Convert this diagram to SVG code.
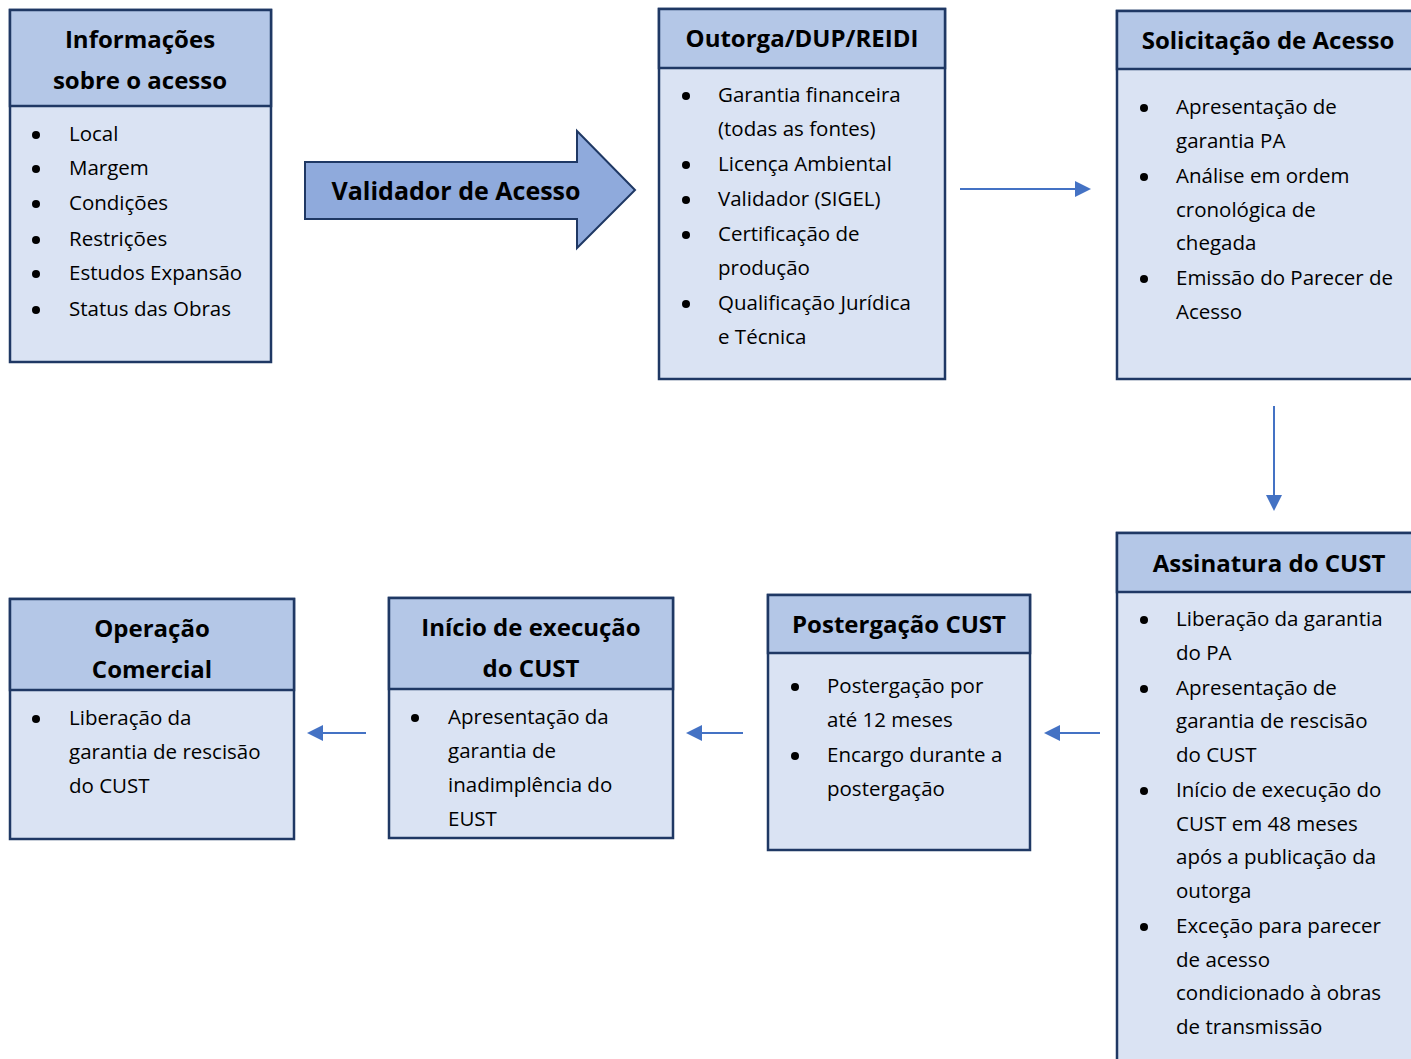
<svg xmlns="http://www.w3.org/2000/svg" width="1411" height="1059" viewBox="0 0 1411 1059">
<defs>
<style>
.hdr{fill:#B4C7E7;stroke:#1F3864;stroke-width:2.5}
.bdy{fill:#DAE3F3;stroke:#1F3864;stroke-width:2.5}
.t{font-family:"Open Sans","Liberation Sans",sans-serif;font-weight:bold;font-size:24px;fill:#000;text-anchor:middle}
.b{font-family:"Open Sans","Liberation Sans",sans-serif;font-size:20.5px;fill:#000}
.dot{fill:#000}
.con{stroke:#4472C4;stroke-width:2;fill:none}
.head{fill:#4472C4}
</style>
</defs>
<rect width="1411" height="1059" fill="#fff"/>

<g id="connectors">
<line class="con" x1="960" y1="189" x2="1078" y2="189"/>
<path class="head" d="M1075,181 L1091,189 L1075,197 Z"/>
<line class="con" x1="1274" y1="406" x2="1274" y2="497"/>
<path class="head" d="M1266,495 L1274,511 L1282,495 Z"/>
<line class="con" x1="1100" y1="733" x2="1058" y2="733"/>
<path class="head" d="M1060,725 L1044,733 L1060,741 Z"/>
<line class="con" x1="743" y1="733" x2="700" y2="733"/>
<path class="head" d="M702,725 L686,733 L702,741 Z"/>
<line class="con" x1="366" y1="733" x2="321" y2="733"/>
<path class="head" d="M323,725 L307,733 L323,741 Z"/>
</g>

<g id="validador">
<path d="M305,162 L577,162 L577,131 L635,190 L577,248 L577,219 L305,219 Z" fill="#8FAADC" stroke="#1F3864" stroke-width="2"/>
<text class="t" x="456" y="200" style="font-size:25px">Validador de Acesso</text>
</g>

<g id="informacoes">
<rect class="bdy" x="10" y="10" width="261" height="352"/>
<rect class="hdr" x="10" y="10" width="261" height="96"/>
<text class="t" x="140" y="48">Informações</text>
<text class="t" x="140" y="89">sobre o acesso</text>
<g class="b">
<circle class="dot" cx="36" cy="135" r="4"/><text x="69" y="141">Local</text>
<circle class="dot" cx="36" cy="169" r="4"/><text x="69" y="175">Margem</text>
<circle class="dot" cx="36" cy="204" r="4"/><text x="69" y="210">Condições</text>
<circle class="dot" cx="36" cy="240" r="4"/><text x="69" y="246">Restrições</text>
<circle class="dot" cx="36" cy="274" r="4"/><text x="69" y="280">Estudos Expansão</text>
<circle class="dot" cx="36" cy="310" r="4"/><text x="69" y="316">Status das Obras</text>
</g>
</g>

<g id="outorga">
<rect class="bdy" x="659" y="9" width="286" height="370"/>
<rect class="hdr" x="659" y="9" width="286" height="59"/>
<text class="t" x="802" y="47">Outorga/DUP/REIDI</text>
<g class="b">
<circle class="dot" cx="686" cy="96" r="4"/><text x="718" y="102">Garantia financeira</text>
<text x="718" y="136">(todas as fontes)</text>
<circle class="dot" cx="686" cy="165" r="4"/><text x="718" y="171">Licença Ambiental</text>
<circle class="dot" cx="686" cy="200" r="4"/><text x="718" y="206">Validador (SIGEL)</text>
<circle class="dot" cx="686" cy="235" r="4"/><text x="718" y="241">Certificação de</text>
<text x="718" y="275">produção</text>
<circle class="dot" cx="686" cy="304" r="4"/><text x="718" y="310">Qualificação Jurídica</text>
<text x="718" y="344">e Técnica</text>
</g>
</g>

<g id="solicitacao">
<rect class="bdy" x="1117" y="11" width="300" height="368"/>
<rect class="hdr" x="1117" y="11" width="300" height="58"/>
<text class="t" x="1268" y="49">Solicitação de Acesso</text>
<g class="b">
<circle class="dot" cx="1144" cy="108" r="4"/><text x="1176" y="114">Apresentação de</text>
<text x="1176" y="148">garantia PA</text>
<circle class="dot" cx="1144" cy="177" r="4"/><text x="1176" y="183">Análise em ordem</text>
<text x="1176" y="217">cronológica de</text>
<text x="1176" y="250">chegada</text>
<circle class="dot" cx="1144" cy="279" r="4"/><text x="1176" y="285">Emissão do Parecer de</text>
<text x="1176" y="319">Acesso</text>
</g>
</g>

<g id="assinatura">
<rect class="bdy" x="1117" y="533" width="300" height="540"/>
<rect class="hdr" x="1117" y="533" width="300" height="59"/>
<text class="t" x="1269" y="572">Assinatura do CUST</text>
<g class="b">
<circle class="dot" cx="1144" cy="620" r="4"/><text x="1176" y="626">Liberação da garantia</text>
<text x="1176" y="660">do PA</text>
<circle class="dot" cx="1144" cy="689" r="4"/><text x="1176" y="695">Apresentação de</text>
<text x="1176" y="728">garantia de rescisão</text>
<text x="1176" y="762">do CUST</text>
<circle class="dot" cx="1144" cy="791" r="4"/><text x="1176" y="797">Início de execução do</text>
<text x="1176" y="831">CUST em 48 meses</text>
<text x="1176" y="864">após a publicação da</text>
<text x="1176" y="898">outorga</text>
<circle class="dot" cx="1144" cy="927" r="4"/><text x="1176" y="933">Exceção para parecer</text>
<text x="1176" y="967">de acesso</text>
<text x="1176" y="1000">condicionado à obras</text>
<text x="1176" y="1034">de transmissão</text>
</g>
</g>

<g id="postergacao">
<rect class="bdy" x="768" y="595" width="262" height="255"/>
<rect class="hdr" x="768" y="595" width="262" height="58"/>
<text class="t" x="899" y="633">Postergação CUST</text>
<g class="b">
<circle class="dot" cx="795" cy="687" r="4"/><text x="827" y="693">Postergação por</text>
<text x="827" y="727">até 12 meses</text>
<circle class="dot" cx="795" cy="756" r="4"/><text x="827" y="762">Encargo durante a</text>
<text x="827" y="796">postergação</text>
</g>
</g>

<g id="inicio">
<rect class="bdy" x="389" y="598" width="284" height="240"/>
<rect class="hdr" x="389" y="598" width="284" height="91"/>
<text class="t" x="531" y="636">Início de execução</text>
<text class="t" x="531" y="677">do CUST</text>
<g class="b">
<circle class="dot" cx="415" cy="718" r="4"/><text x="448" y="724">Apresentação da</text>
<text x="448" y="758">garantia de</text>
<text x="448" y="792">inadimplência do</text>
<text x="448" y="826">EUST</text>
</g>
</g>

<g id="operacao">
<rect class="bdy" x="10" y="599" width="284" height="240"/>
<rect class="hdr" x="10" y="599" width="284" height="91"/>
<text class="t" x="152" y="637">Operação</text>
<text class="t" x="152" y="678">Comercial</text>
<g class="b">
<circle class="dot" cx="36" cy="719" r="4"/><text x="69" y="725">Liberação da</text>
<text x="69" y="759">garantia de rescisão</text>
<text x="69" y="793">do CUST</text>
</g>
</g>
</svg>
